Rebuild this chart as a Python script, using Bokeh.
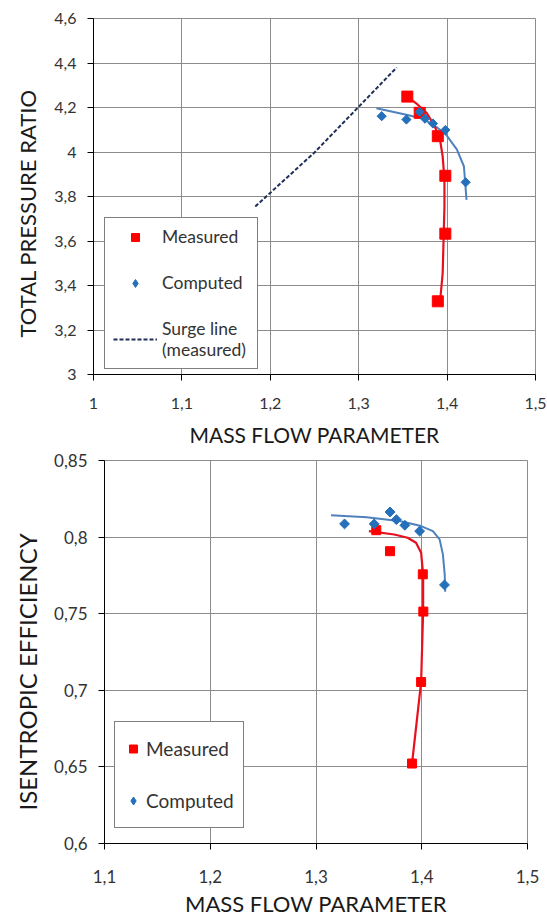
from bokeh.plotting import figure
from bokeh.models import Range1d, FixedTicker, CustomJSTickFormatter, Legend, LegendItem, Title
from bokeh.embed import file_html
from bokeh.resources import INLINE
import math

# ---------------- data: top chart (pressure ratio) ----------------
pr_x_ticks = [1.0, 1.1, 1.2, 1.3, 1.4, 1.5]
pr_x_labels = ["1", "1,1", "1,2", "1,3", "1,4", "1,5"]
pr_y_ticks = [3.0, 3.2, 3.4, 3.6, 3.8, 4.0, 4.2, 4.4, 4.6]
pr_y_labels = ["3", "3,2", "3,4", "3,6", "3,8", "4", "4,2", "4,4", "4,6"]

pr_meas_x = [1.355, 1.369, 1.3895, 1.398, 1.398, 1.3895]
pr_meas_y = [4.249, 4.176, 4.071, 3.893, 3.633, 3.329]
pr_comp_x = [1.326, 1.354, 1.369, 1.375, 1.384, 1.398, 1.421]
pr_comp_y = [4.161, 4.146, 4.180, 4.150, 4.128, 4.099, 3.864]
pr_meas_fit_x = [1.355, 1.365, 1.377, 1.386, 1.392, 1.395, 1.397, 1.397, 1.396, 1.395, 1.392]
pr_meas_fit_y = [4.249, 4.219, 4.175, 4.115, 4.055, 3.980, 3.875, 3.755, 3.605, 3.455, 3.327]
pr_comp_fit_x = [1.320, 1.354, 1.373, 1.388, 1.399, 1.411, 1.419, 1.422]
pr_comp_fit_y = [4.197, 4.167, 4.149, 4.112, 4.077, 4.012, 3.936, 3.785]
surge_x = [1.183, 1.25, 1.343]
surge_y = [3.755, 3.998, 4.38]

# ---------------- data: bottom chart (efficiency) ----------------
ef_x_ticks = [1.1, 1.2, 1.3, 1.4, 1.5]
ef_x_labels = ["1,1", "1,2", "1,3", "1,4", "1,5"]
ef_y_ticks = [0.6, 0.65, 0.7, 0.75, 0.8, 0.85]
ef_y_labels = ["0,6", "0,65", "0,7", "0,75", "0,8", "0,85"]

ef_meas_x = [1.357, 1.370, 1.401, 1.4015, 1.3994, 1.3908]
ef_meas_y = [0.8045, 0.7908, 0.7757, 0.7514, 0.7054, 0.6522]
ef_comp_x = [1.327, 1.355, 1.370, 1.376, 1.384, 1.398, 1.4215]
ef_comp_y = [0.8086, 0.8086, 0.8164, 0.8114, 0.8077, 0.8039, 0.7688]
ef_meas_fit_x = [1.350, 1.374, 1.3866, 1.3946, 1.3994, 1.4013, 1.4013, 1.3994, 1.3908]
ef_meas_fit_y = [0.8039, 0.8017, 0.7996, 0.7963, 0.7898, 0.7757, 0.7513, 0.7054, 0.6522]
ef_comp_fit_x = [1.3142, 1.348, 1.380, 1.3994, 1.4105, 1.4169, 1.420, 1.4217, 1.4222]
ef_comp_fit_y = [0.8142, 0.813, 0.8104, 0.8072, 0.8039, 0.7985, 0.7887, 0.7757, 0.7643]

FONT = "Lato"
RED = "#FF0000"
RED_LINE = "#E8101E"
BLUE = "#2570BA"
BLUE_LINE = "#4F81BD"
NAVY = "#1F2F5A"
GRID = "#8C8C8C"
TXT = "#333333"

def fmt(tick_values, tick_labels):
    return CustomJSTickFormatter(args=dict(tv=tick_values, tl=tick_labels), code="""
        let best = 0, d = 1e9;
        for (let i = 0; i < tv.length; i++) {
            const e = Math.abs(tv[i] - tick);
            if (e < d) { d = e; best = i; }
        }
        return tl[best];
    """)

def style(p, xt, xl, yt, yl, xtitle, tick_fs, xtitle_fs):
    p.xaxis.ticker = FixedTicker(ticks=xt)
    p.yaxis.ticker = FixedTicker(ticks=yt)
    p.xaxis.formatter = fmt(xt, xl)
    p.yaxis.formatter = fmt(yt, yl)
    for ax in (p.xaxis[0], p.yaxis[0]):
        ax.axis_line_color = "black"
        ax.axis_line_width = 1
        ax.major_tick_line_color = "black"
        ax.major_tick_out = 6
        ax.major_tick_in = 0
        ax.minor_tick_line_color = None
        ax.major_label_text_font = FONT
        ax.major_label_text_font_size = tick_fs
        ax.major_label_text_color = TXT
        ax.axis_label_text_font = FONT
        ax.axis_label_text_font_style = "normal"
        ax.axis_label_text_color = "#1A1A1A"
    p.xaxis.axis_label_text_font_size = xtitle_fs
    p.xaxis.axis_label = xtitle
    p.yaxis.major_label_standoff = 11
    p.grid.grid_line_color = GRID
    p.grid.grid_line_width = 1
    p.outline_line_color = GRID
    p.outline_line_width = 1
    p.background_fill_color = "white"
    p.border_fill_color = "white"

def ytitle(p, text, fs, offset, standoff):
    p.add_layout(Title(text=text, align="left", vertical_align="middle",
                       offset=offset, standoff=standoff,
                       text_font=FONT, text_font_size=fs, text_font_style="normal",
                       text_color="#1A1A1A"), "left")

# ---------------- top figure ----------------
p1 = figure(width=547, frame_height=356, output_backend="svg", toolbar_location=None,
            x_range=Range1d(1.0, 1.5), y_range=Range1d(3.0, 4.6),
            min_border_left=93, min_border_right=12, min_border_top=18, min_border_bottom=75)
style(p1, pr_x_ticks, pr_x_labels, pr_y_ticks, pr_y_labels, "MASS FLOW PARAMETER", "16px", "21px")
p1.xaxis.major_label_standoff = 17
p1.xaxis.axis_label_standoff = 10
ytitle(p1, "TOTAL PRESSURE RATIO", "22px", 37, 20)

p1.line(pr_comp_fit_x, pr_comp_fit_y, line_color=BLUE_LINE, line_width=2)
p1.line(pr_meas_fit_x, pr_meas_fit_y, line_color=RED_LINE, line_width=2.2)
r_m1 = p1.scatter(pr_meas_x, pr_meas_y, marker="square", size=11, fill_color=RED, line_color=RED)
r_c1_leg = p1.scatter(pr_comp_x, pr_comp_y, marker="diamond", size=8, fill_color=BLUE, line_color=BLUE)
p1.scatter(pr_comp_x, pr_comp_y, marker="square", size=6.5, angle=math.pi / 4,
           fill_color=BLUE, line_color=BLUE)
r_s1 = p1.line(surge_x, surge_y, line_color=NAVY, line_width=2, line_dash="4 2")

leg1 = Legend(items=[LegendItem(label="Measured", renderers=[r_m1]),
                     LegendItem(label="Computed", renderers=[r_c1_leg]),
                     LegendItem(label="Surge line\n(measured)", renderers=[r_s1])],
              location=(11, 5), orientation="vertical",
              padding=8, spacing=25, glyph_width=44, glyph_height=20, label_height=20,
              label_width=87, label_standoff=5, margin=0,
              label_text_font=FONT, label_text_font_size="17.5px", label_text_color=TXT,
              border_line_color="black", border_line_width=1,
              background_fill_color="white", background_fill_alpha=1.0)
p1.add_layout(leg1, "center")

# ---------------- bottom figure ----------------
p2 = figure(width=547, frame_height=383, output_backend="svg", toolbar_location=None,
            x_range=Range1d(1.1, 1.5), y_range=Range1d(0.6, 0.85),
            min_border_left=104, min_border_right=20, min_border_top=11, min_border_bottom=72)
style(p2, ef_x_ticks, ef_x_labels, ef_y_ticks, ef_y_labels, "MASS FLOW PARAMETER", "17px", "22px")
p2.xaxis.major_label_standoff = 20
p2.xaxis.axis_label_standoff = 4
ytitle(p2, "ISENTROPIC EFFICIENCY", "24px", 33, 18)

p2.line(ef_comp_fit_x, ef_comp_fit_y, line_color=BLUE_LINE, line_width=2)
p2.line(ef_meas_fit_x, ef_meas_fit_y, line_color=RED_LINE, line_width=2.2)
r_m2 = p2.scatter(ef_meas_x, ef_meas_y, marker="square", size=9, fill_color=RED, line_color=RED)
r_c2_leg = p2.scatter(ef_comp_x, ef_comp_y, marker="diamond", size=8, fill_color=BLUE, line_color=BLUE)
p2.scatter(ef_comp_x, ef_comp_y, marker="square", size=7, angle=math.pi / 4,
           fill_color=BLUE, line_color=BLUE)

leg2 = Legend(items=[LegendItem(label="Measured", renderers=[r_m2]),
                     LegendItem(label="Computed", renderers=[r_c2_leg])],
              location=(10, 15), orientation="vertical",
              padding=8, spacing=15, glyph_width=20, glyph_height=37, label_height=37,
              label_width=89, label_standoff=3, margin=0,
              label_text_font=FONT, label_text_font_size="19px", label_text_color=TXT,
              border_line_color="black", border_line_width=1,
              background_fill_color="white", background_fill_alpha=1.0)
p2.add_layout(leg2, "center")

open("out.html", "w").write(file_html([p1, p2], INLINE))
